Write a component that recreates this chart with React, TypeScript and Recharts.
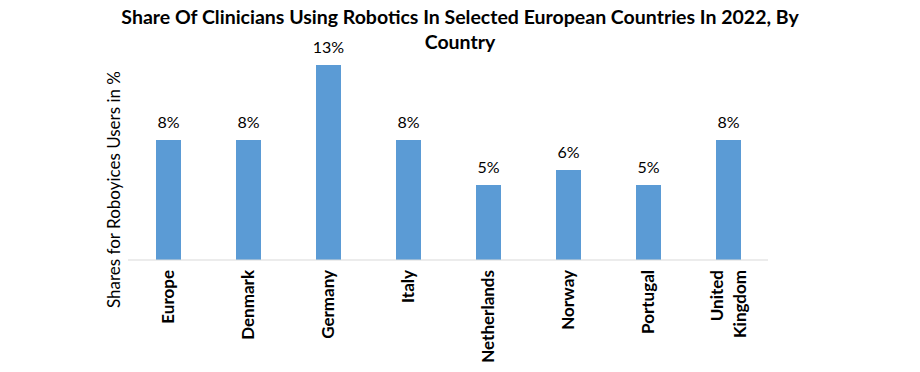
import { BarChart, Bar, XAxis, YAxis, LabelList } from "recharts";

const countries = ["Europe", "Denmark", "Germany", "Italy", "Netherlands", "Norway", "Portugal", "United Kingdom"];
const shares = [8, 8, 13, 8, 5, 6, 5, 8];

const chartData = countries.map((country, i) => ({ country, share: shares[i] }));

const FONT = "Lato, 'Open Sans', sans-serif";

type TickProps = {
    x?: number;
    y?: number;
    payload?: { value: string };
};

function CountryTick({ x = 0, y = 0, payload }: TickProps) {
    const value = payload ? payload.value : "";
    const lines = value === "United Kingdom" ? ["United", "Kingdom"] : [value];
    const start = -((lines.length - 1) * 23) / 2;
    return (
        <g transform={`translate(${x},${y + 2})`}>
            {lines.map((line, i) => (
                <text
                    key={line}
                    transform="rotate(-90)"
                    x={0}
                    y={start + i * 23 + 6}
                    textAnchor="end"
                    fontFamily={FONT}
                    fontWeight={700}
                    fontSize={17}
                    fill="#000"
                >
                    {line}
                </text>
            ))}
        </g>
    );
}

export default function App() {
    return (
        <div style={{ position: "fixed", left: 0, top: 0, width: 920, height: 372, background: "#fff" }}>
            <div
                style={{
                    position: "absolute", left: 0, top: 4, width: 920,
                    textAlign: "center", fontFamily: FONT, fontWeight: 700,
                    fontSize: 19.5, lineHeight: "25px", color: "#000",
                }}
            >
                Share Of Clinicians Using Robotics In Selected European Countries In 2022, By
                <br />
                Country
            </div>
            <div
                style={{
                    position: "absolute", left: 103, top: 68, height: 244,
                    writingMode: "vertical-rl", transform: "rotate(180deg)",
                    fontFamily: FONT, fontSize: 17, color: "#000",
                    textAlign: "center", whiteSpace: "nowrap",
                }}
            >
                Shares for Roboyices Users in %
            </div>
            <BarChart
                width={920}
                height={372}
                data={chartData}
                margin={{ top: 65, right: 152, left: 128, bottom: 82 }}
            >
                <XAxis
                    dataKey="country"
                    interval={0}
                    tickLine={false}
                    axisLine={{ stroke: "#d9d9d9" }}
                    tick={<CountryTick />}
                />
                <YAxis hide domain={[0, 13]} />
                <Bar dataKey="share" fill="#5b9bd5" barSize={25} isAnimationActive={false}>
                    <LabelList
                        dataKey="share"
                        position="top"
                        offset={12}
                        formatter={(v: number) => `${v}%`}
                        style={{ fontFamily: FONT, fontSize: 16, fill: "#000" }}
                    />
                </Bar>
            </BarChart>
        </div>
    );
}
